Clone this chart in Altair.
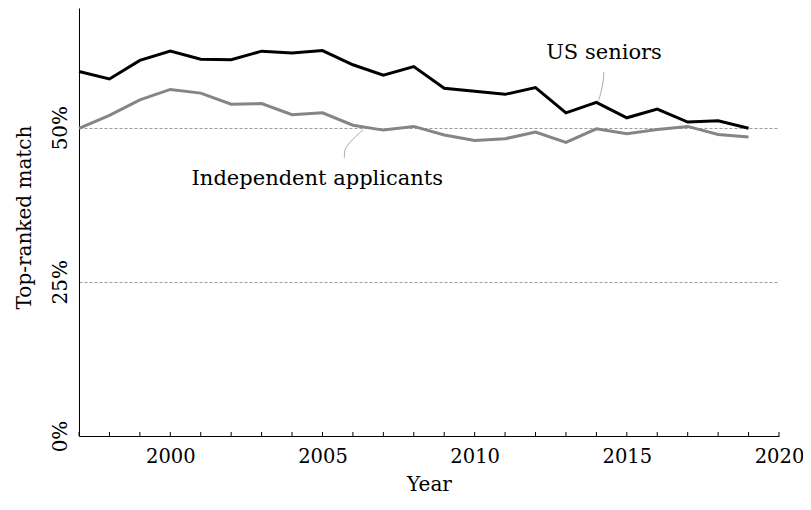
import altair as alt
import pandas as pd

# ---- data ----
years = list(range(1997, 2020))
us_seniors = [59.1, 57.9, 60.9, 62.4, 61.1, 61.0, 62.4, 62.1, 62.5, 60.2, 58.5, 59.9,
              56.4, 55.9, 55.4, 56.5, 52.4, 54.1, 51.6, 53.0, 50.9, 51.1, 49.9]
independent = [49.9, 52.0, 54.5, 56.2, 55.6, 53.8, 53.9, 52.1, 52.4, 50.4, 49.6, 50.2,
               48.8, 47.9, 48.2, 49.3, 47.6, 49.8, 49.0, 49.7, 50.2, 48.9, 48.5]
series_names = ["US seniors", "Independent applicants"]
series_colors = ["#000000", "#858585"]

label_names = ["US seniors", "Independent applicants"]
label_years = [2014.25, 2004.83]
label_values = [61.1, 40.7]

us_leader_years = [2014.24, 2014.24, 2014.13, 2014.05]
us_leader_values = [59.0, 57.8, 55.1, 54.3]
ind_leader_years = [2005.72, 2005.72, 2005.82, 2006.34]
ind_leader_values = [45.1, 46.3, 47.3, 49.7]

tick_years = list(range(1997, 2021))
x_label_values = [2000, 2005, 2010, 2015, 2020]
y_label_values = [0, 25, 50]

FONT = "DejaVu Serif"

rows = []
for name, vals in zip(series_names, [us_seniors, independent]):
    for yr, v in zip(years, vals):
        rows.append({"year": yr, "value": v, "series": name})
df = pd.DataFrame(rows)

lead_rows = []
for name, ys, vs in [("us", us_leader_years, us_leader_values),
                     ("ind", ind_leader_years, ind_leader_values)]:
    for i, (yr, v) in enumerate(zip(ys, vs)):
        lead_rows.append({"year": yr, "value": v, "which": name, "order": i})
leaders_df = pd.DataFrame(lead_rows)

labels_df = pd.DataFrame({"year": label_years, "value": label_values, "text": label_names})
ticks_df = pd.DataFrame({"year": tick_years})

x_scale = alt.Scale(domain=[1997, 2020], nice=False, zero=False)
y_scale = alt.Scale(domain=[0, 69.4], nice=False)

x_axis = alt.Axis(values=x_label_values, format="d", title="Year", ticks=False, tickSize=0,
                  labelPadding=11, labelFlush=False, grid=False, domainColor="#000000",
                  domainWidth=1, labelFont=FONT, labelFontSize=19.5, labelColor="#000000",
                  titleFont=FONT, titleFontSize=20, titleFontWeight="normal",
                  titleColor="#000000", titleBaseline="alphabetic", titleY=54)
y_axis = alt.Axis(values=y_label_values, labelExpr="datum.value + '%'", ticks=False, tickSize=0,
                  labelAngle=270, labelAlign="center", labelBaseline="alphabetic",
                  labelPadding=12.5, labelFont=FONT, labelFontSize=20, labelColor="#000000",
                  grid=True, gridDash=[3, 2], gridColor="#9a9a9a", gridWidth=1,
                  domainColor="#000000", domainWidth=1,
                  title="Top-ranked match", titleAngle=270, titleAlign="center",
                  titleBaseline="alphabetic", titleX=-49, titleY=209, titleFont=FONT,
                  titleFontSize=20, titleFontWeight="normal", titleColor="#000000")

lines = alt.Chart(df).mark_line(strokeWidth=3).encode(
    x=alt.X("year:Q", scale=x_scale, axis=x_axis),
    y=alt.Y("value:Q", scale=y_scale, axis=y_axis),
    color=alt.Color("series:N", scale=alt.Scale(domain=series_names, range=series_colors),
                    legend=None),
)

leaders = alt.Chart(leaders_df).mark_line(interpolate="basis", stroke="#a8a8a8",
                                          strokeWidth=1).encode(
    x=alt.X("year:Q", scale=x_scale),
    y=alt.Y("value:Q", scale=y_scale),
    detail="which:N",
    order="order:Q",
)

labels = alt.Chart(labels_df).mark_text(font=FONT, fontSize=21, align="center",
                                        baseline="alphabetic", color="#000000").encode(
    x=alt.X("year:Q", scale=x_scale),
    y=alt.Y("value:Q", scale=y_scale),
    text="text:N",
)

ticks = alt.Chart(ticks_df).mark_point(shape="M0,0L0,-1", size=64, filled=False,
                                       stroke="#000000", strokeWidth=1, opacity=1).encode(
    x=alt.X("year:Q", scale=x_scale),
    y=alt.datum(0, scale=y_scale),
)

chart = alt.layer(lines, leaders, labels, ticks).properties(
    width=700,
    height=428,
    autosize=alt.AutoSizeParams(type="none"),
    padding={"left": 71, "top": 0, "right": 24, "bottom": 60},
    background="white",
).configure_view(stroke=None)

chart.save("out.html", embed_options={"renderer": "svg", "actions": False})
